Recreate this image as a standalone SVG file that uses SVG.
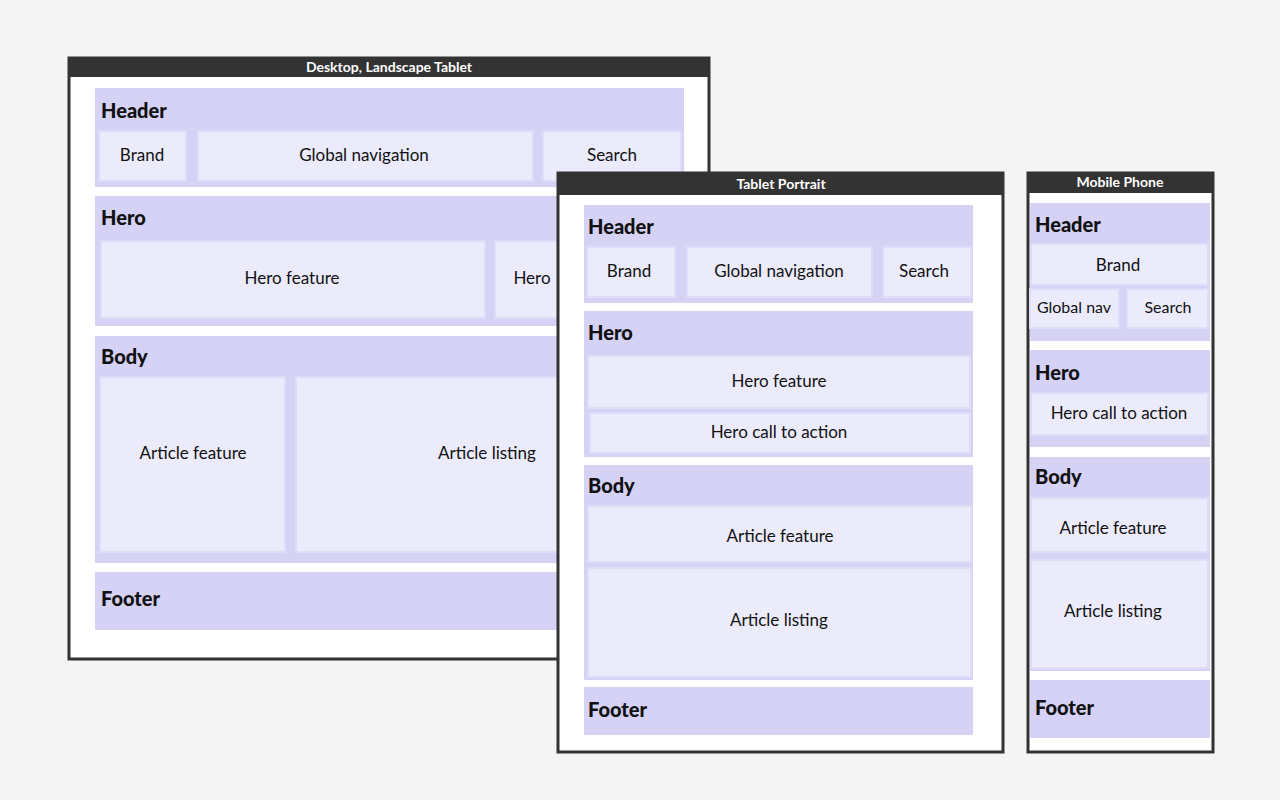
<svg xmlns="http://www.w3.org/2000/svg" width="1280" height="800" viewBox="0 0 1280 800">
<style>
.frame{fill:#fff;stroke:#333;stroke-width:3}
.bar{fill:#333}
.bt{fill:#fff;font-family:Lato,"Liberation Sans",sans-serif;font-size:14px;font-weight:bold;text-anchor:middle}
.sec{fill:#d5d2f6}
.box{fill:#ecebfb;stroke:#dedcf8;stroke-width:2}
.h{font-family:Lato,"Liberation Sans",sans-serif;font-size:20px;font-weight:900;fill:#111}
.t{font-family:Lato,"Liberation Sans",sans-serif;font-size:17px;fill:#111;text-anchor:middle}
</style>
<rect width="1280" height="800" fill="#f4f4f4"/>
<g id="desktop">
<rect class="frame" x="69" y="58" width="640" height="601"/>
<rect class="bar" x="69" y="58" width="640" height="19"/>
<text class="bt" x="389" y="72">Desktop, Landscape Tablet</text>
<rect class="sec" x="95" y="88" width="589" height="99"/>
<text class="h" x="101" y="118">Header</text>
<rect class="box" x="99" y="131" width="87" height="50"/><text class="t" x="142" y="161">Brand</text>
<rect class="box" x="198" y="131" width="335" height="50"/><text class="t" x="364" y="161">Global navigation</text>
<rect class="box" x="543" y="131" width="138" height="50"/><text class="t" x="612" y="161">Search</text>
<rect class="sec" x="95" y="196" width="589" height="130"/>
<text class="h" x="101" y="225">Hero</text>
<rect class="box" x="101" y="241" width="384" height="77"/><text class="t" x="292" y="284">Hero feature</text>
<rect class="box" x="495" y="241" width="180" height="77"/><text class="t" x="532" y="284">Hero</text>
<rect class="sec" x="95" y="336" width="589" height="227"/>
<text class="h" x="101" y="364">Body</text>
<rect class="box" x="100" y="377" width="185" height="175"/><text class="t" x="193" y="459">Article feature</text>
<rect class="box" x="296" y="377" width="380" height="175"/><text class="t" x="487" y="459">Article listing</text>
<rect class="sec" x="95" y="572" width="589" height="58"/>
<text class="h" x="101" y="606">Footer</text>
</g>
<g id="tablet">
<rect class="frame" x="558" y="173" width="445" height="579"/>
<rect class="bar" x="558" y="173" width="445" height="22"/>
<text class="bt" x="781" y="189">Tablet Portrait</text>
<rect class="sec" x="584" y="205" width="389" height="98"/>
<text class="h" x="588" y="234">Header</text>
<rect class="box" x="587" y="247" width="88" height="50"/><text class="t" x="629" y="277">Brand</text>
<rect class="box" x="687" y="247" width="185" height="50"/><text class="t" x="779" y="277">Global navigation</text>
<rect class="box" x="883" y="247" width="88" height="50"/><text class="t" x="924" y="277">Search</text>
<rect class="sec" x="584" y="311" width="389" height="146"/>
<text class="h" x="588" y="340">Hero</text>
<rect class="box" x="588" y="356" width="382" height="52"/><text class="t" x="779" y="387">Hero feature</text>
<rect class="box" x="590" y="413" width="380" height="40"/><text class="t" x="779" y="438">Hero call to action</text>
<rect class="sec" x="584" y="465" width="389" height="215"/>
<text class="h" x="588" y="493">Body</text>
<rect class="box" x="588" y="506" width="383" height="56"/><text class="t" x="780" y="542">Article feature</text>
<rect class="box" x="588" y="568" width="383" height="109"/><text class="t" x="779" y="626">Article listing</text>
<rect class="sec" x="584" y="687" width="389" height="48"/>
<text class="h" x="588" y="717">Footer</text>
</g>
<g id="mobile">
<rect class="frame" x="1028" y="173" width="185" height="579"/>
<rect class="bar" x="1028" y="173" width="185" height="20"/>
<text class="bt" x="1120" y="187">Mobile Phone</text>
<rect class="sec" x="1030" y="203" width="180" height="138"/>
<text class="h" x="1035" y="232">Header</text>
<rect class="box" x="1031" y="244" width="177" height="41"/><text class="t" x="1118" y="271">Brand</text>
<rect class="box" x="1030" y="289" width="89" height="39"/><text class="t" x="1074" y="313" style="font-size:16px">Global nav</text>
<rect class="box" x="1127" y="289" width="81" height="39"/><text class="t" x="1168" y="313" style="font-size:16px">Search</text>
<rect class="sec" x="1030" y="350" width="180" height="97"/>
<text class="h" x="1035" y="380">Hero</text>
<rect class="box" x="1031" y="393" width="177" height="42"/><text class="t" x="1119" y="419">Hero call to action</text>
<rect class="sec" x="1030" y="457" width="180" height="214"/>
<text class="h" x="1035" y="484">Body</text>
<rect class="box" x="1031" y="498" width="177" height="54"/><text class="t" x="1113" y="534">Article feature</text>
<rect class="box" x="1031" y="560" width="177" height="108"/><text class="t" x="1113" y="617">Article listing</text>
<rect class="sec" x="1030" y="680" width="180" height="58"/>
<text class="h" x="1035" y="715">Footer</text>
</g>
<g id="connectors"/>
</svg>
